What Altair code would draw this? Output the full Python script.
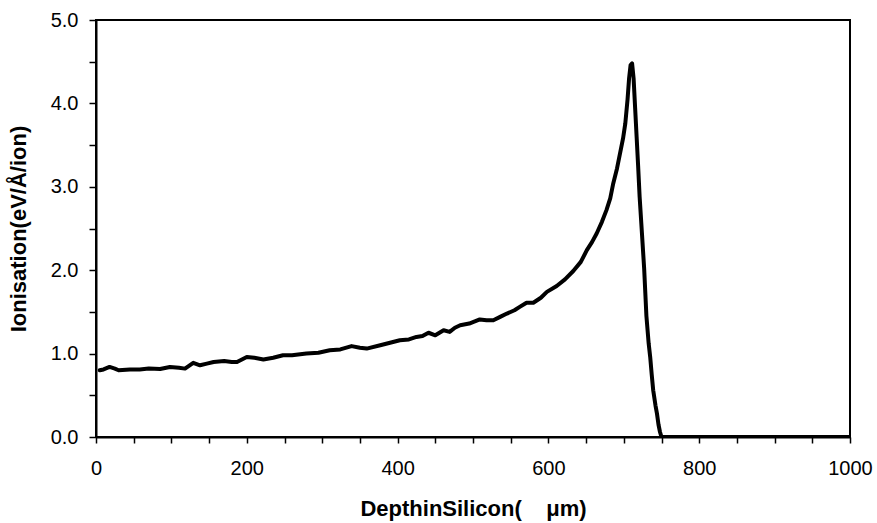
import altair as alt
import pandas as pd

# Ionisation profile along the ion track (depth in µm, eV/Å/ion)
depth = [5, 10, 18, 25, 30, 45, 58, 70, 85, 98, 110, 118, 129, 138, 147, 156,
         170, 180, 187, 200, 210, 222, 235, 248, 260, 279, 295, 310, 324, 339,
         350, 359, 377, 390, 403, 415, 425, 433, 441, 450, 461, 469, 476, 483,
         495, 509, 518, 527, 536, 545, 555, 562, 571, 580, 590, 598, 611, 622,
         633, 643, 651, 658, 664, 671, 677, 682, 686, 691, 695, 699, 702, 705,
         707, 709, 711, 713, 715, 717, 719, 721, 724, 727, 730, 733, 735, 737,
         739, 742, 744, 746, 748, 750, 800, 850, 900, 950, 1000]
ionisation = [0.80, 0.81, 0.84, 0.82, 0.80, 0.81, 0.81, 0.82, 0.815, 0.84, 0.83,
              0.82, 0.89, 0.86, 0.88, 0.90, 0.91, 0.90, 0.90, 0.96, 0.95, 0.93,
              0.95, 0.98, 0.98, 1.00, 1.01, 1.04, 1.05, 1.09, 1.07, 1.06, 1.10,
              1.13, 1.16, 1.17, 1.20, 1.21, 1.25, 1.22, 1.28, 1.26, 1.31, 1.34,
              1.36, 1.41, 1.40, 1.40, 1.44, 1.48, 1.52, 1.56, 1.61, 1.61, 1.67,
              1.74, 1.81, 1.89, 1.99, 2.10, 2.24, 2.34, 2.44, 2.58, 2.72, 2.86,
              3.04, 3.22, 3.40, 3.58, 3.76, 4.05, 4.30, 4.46, 4.48, 4.30, 3.95,
              3.60, 3.25, 2.88, 2.45, 2.02, 1.45, 1.12, 0.96, 0.75, 0.56, 0.38,
              0.28, 0.15, 0.06, 0.0, 0.0, 0.0, 0.0, 0.0, 0.0]

df = pd.DataFrame({"depth": depth, "ionisation": ionisation})

FONT = "Liberation Sans"

chart = (
    alt.Chart(df)
    .mark_line(color="black", strokeWidth=4, strokeJoin="round", strokeCap="round", clip=True)
    .encode(
        x=alt.X(
            "depth:Q",
            scale=alt.Scale(domain=[0, 1000], nice=False, zero=False),
            axis=alt.Axis(
                title="DepthinSilicon(\u00a0\u00a0\u00a0\u00a0μm)",
                values=list(range(0, 1001, 50)),
                labelExpr="datum.value % 200 == 0 ? datum.value : ''",
                grid=False,
                tickSize=6,
                labelPadding=15,
                titleY=71,
                titleBaseline="middle",
            ),
        ),
        y=alt.Y(
            "ionisation:Q",
            scale=alt.Scale(domain=[0, 5], nice=False),
            axis=alt.Axis(
                title="Ionisation(eV/Å/ion)",
                values=[0, 0.5, 1, 1.5, 2, 2.5, 3, 3.5, 4, 4.5, 5],
                labelExpr="datum.value % 1 == 0 ? format(datum.value, '.1f') : ''",
                grid=False,
                tickSize=7,
                labelPadding=11,
                titleX=-78,
                titleBaseline="middle",
            ),
        ),
    )
    .properties(width=754, height=417, padding={"left": 96, "top": 20, "right": 27, "bottom": 86},
                autosize=alt.AutoSizeParams(type="none"), background="white")
    .configure_view(stroke="black", strokeWidth=2)
    .configure_axis(
        domainColor="black",
        domainWidth=2,
        tickColor="black",
        tickWidth=1.5,
        labelFont=FONT,
        labelFontSize=20,
        labelColor="black",
        titleFont=FONT,
        titleFontSize=22,
        titleFontWeight="bold",
        titleColor="black",
        labelFlush=False,
        labelOverlap=False,
    )
)

chart.save("out.html", embed_options={"renderer": "svg", "actions": False})
